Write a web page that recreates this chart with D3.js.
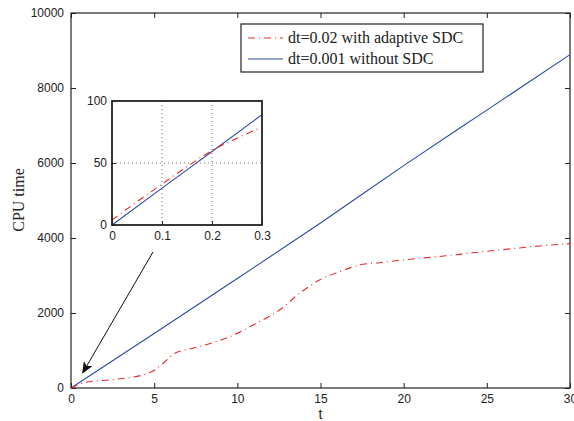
<!DOCTYPE html>
<html>
<head>
<meta charset="utf-8">
<script src="https://cdn.jsdelivr.net/npm/d3@7"></script>
<style>
  html, body { margin: 0; padding: 0; background: #fff; }
  svg { display: block; }
  .tick text { font-family: "Liberation Sans", Arial, sans-serif; font-size: 12px; fill: #222; }
</style>
</head>
<body>
<svg id="chart" width="574" height="421"></svg>
<script>
// Simulation time t and CPU time, SDC (adaptive, dt=0.02) vs plain (dt=0.001)
const tSDC   = [0, 0.84, 2.64, 4.44, 5.04, 5.64, 6.24, 7.04, 7.84, 9.54, 11.14, 12.54, 13.74, 14.94, 16.14, 17.54, 18.54, 19.54, 20.94, 22.54, 24.14, 26.14, 28.14, 30];
const cpuSDC = [0, 150, 230, 365, 480, 700, 925, 1030, 1120, 1368, 1725, 2080, 2525, 2880, 3100, 3298, 3342, 3395, 3458, 3525, 3605, 3698, 3787, 3850];

const tNoSDC   = [0, 5, 10, 15, 20, 25, 30];
const cpuNoSDC = [0, 1455, 2920, 4400, 5930, 7410, 8890];

// Zoomed-in start of the run (t in [0, 0.3])
const tZoomSDC   = [0, 0.02, 0.1, 0.15, 0.2, 0.25, 0.3];
const cpuZoomSDC = [4, 10, 33, 47, 60, 70, 79];
const tZoomNo    = [0, 0.1, 0.2, 0.3];
const cpuZoomNo  = [0, 29.7, 59.3, 89];

const xTicks = [0, 5, 10, 15, 20, 25, 30];
const yTicks = [0, 2000, 4000, 6000, 8000, 10000];
const xTicksZoom = [0, 0.1, 0.2, 0.3];
const yTicksZoom = [0, 50, 100];

const seriesNames = ["dt=0.02 with adaptive SDC", "dt=0.001 without SDC"];

const RED = "#ec2a2a";
const BLUE = "#2c4aa6";
const DASHDOT = "7,4,1,4";

const svg = d3.select("#chart");

// ---------- main axes ----------
const M = { left: 71, right: 570, top: 13, bottom: 388 };
const x = d3.scaleLinear().domain([0, 30]).range([M.left, M.right]);
const y = d3.scaleLinear().domain([0, 10000]).range([M.bottom, M.top]);

function styleAxis(g) {
  g.select(".domain").remove();
  g.selectAll(".tick line").attr("stroke", "#222");
}

svg.append("g").attr("transform", `translate(0,${M.bottom})`)
  .call(d3.axisBottom(x).tickValues(xTicks).tickSizeInner(-5).tickSizeOuter(0).tickPadding(6))
  .call(styleAxis);
svg.append("g").attr("transform", `translate(0,${M.top})`)
  .call(d3.axisTop(x).tickValues(xTicks).tickSizeInner(-5).tickSizeOuter(0).tickFormat(""))
  .call(styleAxis);
svg.append("g").attr("transform", `translate(${M.left},0)`)
  .call(d3.axisLeft(y).tickValues(yTicks).tickSizeInner(-5).tickSizeOuter(0).tickPadding(7).tickFormat(d3.format("d")))
  .call(styleAxis);
svg.append("g").attr("transform", `translate(${M.right},0)`)
  .call(d3.axisRight(y).tickValues(yTicks).tickSizeInner(-5).tickSizeOuter(0).tickFormat(""))
  .call(styleAxis);

svg.append("rect")
  .attr("x", M.left).attr("y", M.top)
  .attr("width", M.right - M.left).attr("height", M.bottom - M.top)
  .attr("fill", "none").attr("stroke", "#222").attr("stroke-width", 1.2);

const line = d3.line().x(d => x(d[0])).y(d => y(d[1])).curve(d3.curveMonotoneX);

svg.append("path")
  .datum(tNoSDC.map((t, i) => [t, cpuNoSDC[i]]))
  .attr("d", line).attr("fill", "none").attr("stroke", BLUE).attr("stroke-width", 1.1);
svg.append("path")
  .datum(tSDC.map((t, i) => [t, cpuSDC[i]]))
  .attr("d", line).attr("fill", "none").attr("stroke", RED).attr("stroke-width", 1.1)
  .attr("stroke-dasharray", DASHDOT);

// axis titles
svg.append("text")
  .attr("x", x(15)).attr("y", 419).attr("text-anchor", "middle")
  .attr("font-family", "Liberation Sans, Arial, sans-serif").attr("font-size", 14).attr("fill", "#222")
  .text("t");
svg.append("text")
  .attr("transform", `translate(24,200) rotate(-90)`).attr("text-anchor", "middle")
  .attr("font-family", "Liberation Serif, Times New Roman, serif").attr("font-size", 16).attr("fill", "#222")
  .text("CPU time");

// ---------- legend ----------
const L = { x: 241, y: 24, w: 242, h: 48 };
const leg = svg.append("g");
leg.append("rect").attr("x", L.x).attr("y", L.y).attr("width", L.w).attr("height", L.h)
  .attr("fill", "#fff").attr("stroke", "#222").attr("stroke-width", 1.2);
[[RED, DASHDOT], [BLUE, null]].forEach(([c, dash], i) => {
  const cy = L.y + 14 + i * 21;
  leg.append("line").attr("x1", L.x + 7).attr("x2", L.x + 42).attr("y1", cy).attr("y2", cy)
    .attr("stroke", c).attr("stroke-width", 1.1).attr("stroke-dasharray", dash);
  leg.append("text").attr("x", L.x + 47).attr("y", cy + 5)
    .attr("font-family", "Liberation Serif, Times New Roman, serif").attr("font-size", 16).attr("fill", "#222")
    .text(seriesNames[i]);
});

// ---------- inset ----------
const I = { left: 112, right: 262, top: 101, bottom: 225 };
const xi = d3.scaleLinear().domain([0, 0.3]).range([I.left, I.right]);
const yi = d3.scaleLinear().domain([0, 100]).range([I.bottom, I.top]);
const inset = svg.append("g");
inset.append("rect").attr("x", I.left).attr("y", I.top)
  .attr("width", I.right - I.left).attr("height", I.bottom - I.top).attr("fill", "#fff");

// dotted grid
inset.selectAll(".gv").data(xTicksZoom.slice(1, -1)).join("line")
  .attr("x1", d => xi(d)).attr("x2", d => xi(d)).attr("y1", I.top).attr("y2", I.bottom)
  .attr("stroke", "#555").attr("stroke-width", 0.8).attr("stroke-dasharray", "1,3");
inset.selectAll(".gh").data(yTicksZoom.slice(1, -1)).join("line")
  .attr("x1", I.left).attr("x2", I.right).attr("y1", d => yi(d)).attr("y2", d => yi(d))
  .attr("stroke", "#555").attr("stroke-width", 0.8).attr("stroke-dasharray", "1,3");

inset.append("g").attr("transform", `translate(0,${I.bottom})`)
  .call(d3.axisBottom(xi).tickValues(xTicksZoom).tickSizeInner(-4).tickSizeOuter(0).tickPadding(6).tickFormat(d3.format("")))
  .call(styleAxis);
inset.append("g").attr("transform", `translate(${I.left},0)`)
  .call(d3.axisLeft(yi).tickValues(yTicksZoom).tickSizeInner(-4).tickSizeOuter(0).tickPadding(5))
  .call(styleAxis);

const linei = d3.line().x(d => xi(d[0])).y(d => yi(d[1])).curve(d3.curveMonotoneX);
inset.append("path")
  .datum(tZoomNo.map((t, i) => [t, cpuZoomNo[i]]))
  .attr("d", linei).attr("fill", "none").attr("stroke", BLUE).attr("stroke-width", 1.1);
inset.append("path")
  .datum(tZoomSDC.map((t, i) => [t, cpuZoomSDC[i]]))
  .attr("d", linei).attr("fill", "none").attr("stroke", RED).attr("stroke-width", 1.1)
  .attr("stroke-dasharray", DASHDOT);

inset.append("rect").attr("x", I.left).attr("y", I.top)
  .attr("width", I.right - I.left).attr("height", I.bottom - I.top)
  .attr("fill", "none").attr("stroke", "#222").attr("stroke-width", 1.8);

// ---------- arrow pointing from the inset to the origin ----------
svg.append("defs").append("marker")
  .attr("id", "head").attr("viewBox", "0 0 12 10").attr("refX", 11).attr("refY", 5)
  .attr("markerWidth", 12).attr("markerHeight", 10).attr("markerUnits", "userSpaceOnUse")
  .attr("orient", "auto")
  .append("path").attr("d", "M0,0 L12,5 L0,10 L3,5 Z").attr("fill", "#111");
svg.append("line")
  .attr("x1", 153).attr("y1", 252).attr("x2", x(0.7)).attr("y2", y(400))
  .attr("stroke", "#111").attr("stroke-width", 1).attr("marker-end", "url(#head)");
</script>
</body>
</html>
